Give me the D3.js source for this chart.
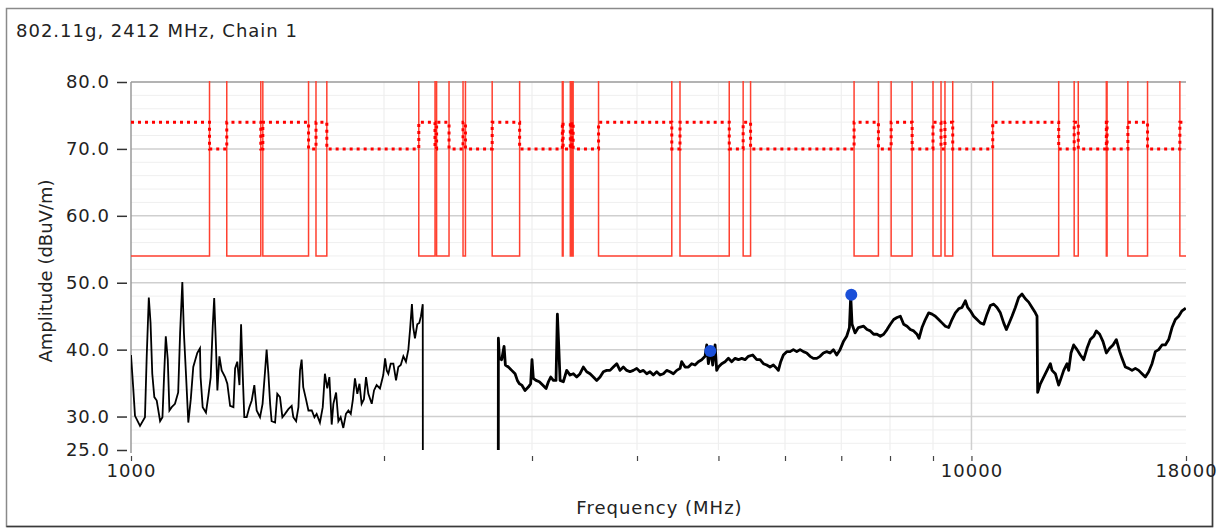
<!DOCTYPE html>
<html>
<head>
<meta charset="utf-8">
<script src="https://cdn.jsdelivr.net/npm/d3@7"></script>
<style>
  html, body { margin: 0; padding: 0; background: #fff; }
  svg text { font-family: "DejaVu Sans", Verdana, sans-serif; fill: #222; }
</style>
</head>
<body>
<div id="chart"></div>
<script>
const width = 1225;
const height = 529;

const title = "802.11g, 2412 MHz, Chain 1";
const xTitle = "Frequency (MHz)";
const yTitle = "Amplitude (dBuV/m)";

const xDomain = [1000, 18000];
const yDomain = [25, 80];
const xTicks = [1000, 2000, 3000, 4000, 5000, 6000, 7000, 8000, 9000, 10000, 18000];
const xTickLabels = [1000, 10000, 18000];
const yTicks = [25, 30, 40, 50, 60, 70, 80];

// restricted bands (MHz)
const restrictedBands = [
  [960, 1240], [1300, 1427], [1435, 1626.5], [1660, 1710],
  [2200, 2300], [2310, 2390], [2483.5, 2500], [2690, 2900],
  [3260, 3267], [3332, 3339], [3345.8, 3358], [3600, 4400],
  [4500, 5150], [5350, 5460], [7250, 7750], [8025, 8500],
  [9000, 9200], [9300, 9500], [10600, 12700], [13250, 13400],
  [14470, 14500], [15350, 16200], [17700, 21400]
];
// limit levels: [inside restricted band, outside]
const avgLimit = [54, 100];
const peakLimit = [74, 70];

// measured sweep, 1 - 2.2 GHz
const sweepLow = [
  [1000,39.2],[1006,34.4],[1011,30.1],[1025,28.6],[1039,29.9],[1044,39.0],[1050,47.8],[1055,44.0],
  [1060,36.4],[1066,32.9],[1073,32.4],[1083,29.3],[1090,29.9],[1095,36.2],[1100,42.0],[1106,38.5],
  [1111,30.9],[1118,31.4],[1128,31.9],[1138,33.6],[1144,42.5],[1151,50.1],[1156,42.5],[1163,35.9],
  [1170,29.1],[1178,32.6],[1186,37.4],[1199,39.5],[1208,40.2],[1210,35.9],[1217,31.4],[1228,30.6],
  [1236,33.1],[1244,35.9],[1251,43.5],[1256,47.7],[1262,40.7],[1267,33.9],[1274,39.0],[1282,36.9],
  [1294,35.9],[1302,34.9],[1312,31.6],[1324,31.4],[1330,37.2],[1338,38.2],[1346,34.7],[1352,43.8],
  [1358,36.4],[1364,29.9],[1373,29.9],[1383,31.4],[1392,32.4],[1402,34.7],[1411,30.9],[1424,29.9],
  [1434,31.9],[1444,36.9],[1450,40.0],[1457,36.4],[1464,31.9],[1470,29.3],[1484,29.1],[1493,33.4],
  [1504,32.9],[1514,29.9],[1525,30.4],[1539,31.1],[1553,31.6],[1560,29.9],[1572,29.3],[1582,31.4],
  [1589,36.9],[1596,38.5],[1603,34.4],[1615,32.6],[1626,30.9],[1641,30.9],[1653,29.9],[1663,30.4],
  [1678,29.1],[1691,31.4],[1701,36.4],[1712,34.2],[1722,35.9],[1733,28.8],[1741,31.9],[1754,33.6],
  [1765,29.3],[1776,29.9],[1789,28.3],[1802,30.4],[1814,30.9],[1826,30.4],[1836,32.4],[1847,35.7],
  [1859,33.4],[1870,34.9],[1881,31.9],[1893,32.6],[1904,35.9],[1916,33.4],[1934,31.9],[1946,33.9],
  [1960,34.7],[1978,34.2],[1996,36.2],[2006,38.7],[2015,36.9],[2024,36.4],[2037,37.9],[2052,37.9],
  [2067,35.4],[2080,37.4],[2094,37.7],[2109,39.0],[2124,38.2],[2138,40.0],[2148,43.0],[2159,46.8],
  [2167,43.3],[2177,41.7],[2191,43.8],[2203,44.0],[2213,45.0],[2224,46.8],[2225,10]
];

// measured sweep, 2.7 - 18 GHz
const sweepHigh = [
  [2735,10],[2736,41.7],[2743,38.7],[2761,38.5],[2779,40.5],[2789,37.7],[2812,37.4],[2838,36.9],
  [2864,36.4],[2882,35.4],[2898,34.9],[2917,34.7],[2943,33.9],[2970,34.4],[2989,34.9],[3000,38.5],
  [3011,35.7],[3033,35.4],[3061,35.2],[3089,34.7],[3118,34.2],[3138,35.2],[3158,35.9],[3181,35.4],
  [3204,35.4],[3216,45.3],[3228,40.5],[3240,35.4],[3269,35.2],[3299,36.9],[3330,36.2],[3360,36.4],
  [3391,35.9],[3422,36.4],[3453,37.4],[3485,36.7],[3517,36.4],[3549,35.9],[3582,35.4],[3615,35.9],
  [3648,36.7],[3681,36.9],[3715,36.9],[3749,37.4],[3784,37.9],[3818,36.9],[3853,37.4],[3889,36.9],
  [3924,36.7],[3960,36.9],[3997,37.2],[4033,36.7],[4070,36.9],[4108,36.4],[4145,36.7],[4183,36.2],
  [4222,36.7],[4261,36.2],[4300,36.4],[4339,36.9],[4379,36.7],[4419,36.4],[4460,36.9],[4501,37.2],
  [4521,38.2],[4563,37.4],[4605,37.4],[4647,37.9],[4689,37.7],[4732,38.2],[4776,38.5],[4820,39.0],
  [4842,40.7],[4864,37.9],[4895,40.0],[4922,37.7],[4954,40.7],[4976,36.9],[4999,37.4],[5045,37.9],
  [5091,38.2],[5138,38.7],[5185,38.2],[5233,38.7],[5281,38.5],[5329,38.7],[5378,38.5],[5427,39.0],
  [5492,39.2],[5553,38.5],[5604,38.5],[5655,37.9],[5707,37.7],[5759,37.4],[5812,37.7],[5865,37.2],
  [5892,36.9],[5930,38.2],[5973,39.2],[6028,39.7],[6084,39.7],[6139,40.0],[6196,39.7],[6253,40.0],
  [6310,39.7],[6368,39.5],[6426,39.0],[6485,38.7],[6545,38.7],[6605,39.0],[6665,39.5],[6727,39.7],
  [6788,39.5],[6851,40.0],[6913,39.2],[6977,40.0],[7041,41.2],[7105,42.0],[7158,43.3],[7184,48.1],
  [7210,43.8],[7269,42.5],[7336,43.3],[7443,43.5],[7512,43.0],[7580,42.8],[7650,42.3],[7720,42.3],
  [7791,42.0],[7862,42.3],[7935,43.0],[8007,43.8],[8081,44.5],[8155,44.8],[8230,45.0],[8305,43.8],
  [8382,43.5],[8458,43.0],[8536,42.8],[8614,42.3],[8662,41.7],[8733,43.3],[8813,44.5],[8894,45.5],
  [8976,45.3],[9058,45.0],[9141,44.5],[9225,44.0],[9310,43.5],[9395,43.3],[9481,44.5],[9568,45.5],
  [9656,46.1],[9745,46.3],[9834,47.3],[9897,46.3],[9970,45.8],[10061,45.0],[10153,44.5],[10247,44.0],
  [10341,43.8],[10435,45.3],[10531,46.6],[10628,46.8],[10725,46.3],[10824,45.5],[10923,44.0],[11003,43.0],
  [11074,43.8],[11175,45.0],[11278,46.3],[11381,47.8],[11486,48.3],[11591,47.6],[11697,47.1],[11805,46.3],
  [11913,45.5],[11968,45.0],[11989,33.6],[12077,34.9],[12188,35.9],[12300,36.9],[12413,37.9],[12470,36.9],
  [12584,36.4],[12699,34.7],[12781,35.7],[12875,36.9],[12993,37.9],[13052,36.9],[13136,39.5],[13232,40.7],
  [13354,40.0],[13476,39.2],[13600,38.5],[13724,40.2],[13850,41.5],[13978,42.0],[14080,42.8],[14209,42.3],
  [14340,41.2],[14471,39.5],[14604,40.2],[14738,40.7],[14873,41.5],[15010,39.7],[15106,38.7],[15244,37.4],
  [15384,37.2],[15526,36.9],[15668,37.2],[15812,36.9],[15957,36.4],[16103,35.9],[16251,36.7],[16400,37.9],
  [16550,39.7],[16702,40.0],[16856,40.7],[17010,40.7],[17166,41.5],[17324,43.3],[17483,44.5],[17643,45.0],
  [17805,45.8],[17990,46.2]
];

const markers = [[4890, 39.8], [7195, 48.2]];

const margin = { top: 82, right: 39, bottom: 79, left: 131 };
const plotW = width - margin.left - margin.right;
const plotH = height - margin.top - margin.bottom;

const svg = d3.select("#chart")
  .append("svg")
  .attr("width", width)
  .attr("height", height);

svg.append("rect")
  .attr("width", width)
  .attr("height", height)
  .attr("fill", "#fff");

// outer frame
svg.append("rect")
  .attr("x", 6.5).attr("y", 8.5)
  .attr("width", 1206).attr("height", 518)
  .attr("fill", "none")
  .attr("stroke", "#8a8a8a")
  .attr("stroke-width", 1.5);
svg.append("path")
  .attr("d", "M1212.5,8.5V526.5H6.5")
  .attr("fill", "none")
  .attr("stroke", "#3a3a3a")
  .attr("stroke-width", 1.5);

svg.append("text")
  .attr("x", 16).attr("y", 37)
  .style("font-size", "18px")
  .style("letter-spacing", "1px")
  .text(title);

const x = d3.scaleLog().domain(xDomain).range([margin.left, margin.left + plotW]);
const y = d3.scaleLinear().domain(yDomain).range([margin.top + plotH, margin.top]);

// grid
const grid = svg.append("g");
const minorY = d3.range(26, 80, 2).filter(v => v % 10 !== 0);
grid.selectAll(".gy-minor").data(minorY).join("line")
  .attr("x1", x(xDomain[0])).attr("x2", x(xDomain[1]))
  .attr("y1", d => y(d)).attr("y2", d => y(d))
  .attr("stroke", "#efefef").attr("stroke-width", 1);
grid.selectAll(".gx-minor").data(xTicks.filter(d => !xTickLabels.includes(d))).join("line")
  .attr("x1", d => x(d)).attr("x2", d => x(d))
  .attr("y1", y(yDomain[0])).attr("y2", y(yDomain[1]))
  .attr("stroke", "#efefef").attr("stroke-width", 1.2);
grid.selectAll(".gy-major").data(yTicks.filter(d => d !== 25)).join("line")
  .attr("x1", x(xDomain[0])).attr("x2", x(xDomain[1]))
  .attr("y1", d => y(d)).attr("y2", d => y(d))
  .attr("stroke", d => d === 80 ? "#9a9a9a" : "#cfcfcf").attr("stroke-width", 1.5);
grid.append("line")
  .attr("x1", x(10000)).attr("x2", x(10000))
  .attr("y1", y(yDomain[0])).attr("y2", y(yDomain[1]))
  .attr("stroke", "#cfcfcf").attr("stroke-width", 1.5);

// left axis line
svg.append("line")
  .attr("x1", margin.left).attr("x2", margin.left)
  .attr("y1", margin.top).attr("y2", margin.top + plotH + 3)
  .attr("stroke", "#9a9a9a").attr("stroke-width", 1.5);

// y axis
const yAxis = svg.append("g")
  .attr("transform", `translate(${margin.left - 4},0)`)
  .call(d3.axisLeft(y).tickValues(yTicks).tickFormat(d3.format(".1f")).tickSize(10).tickPadding(7));
yAxis.select(".domain").remove();
yAxis.selectAll(".tick line").attr("stroke", "#333").attr("stroke-width", 1.5);
yAxis.selectAll(".tick text")
  .style("font-size", "18px").style("letter-spacing", "1px")
  .attr("fill", "#222");

// x axis
const xAxis = svg.append("g")
  .attr("transform", `translate(0,${margin.top + plotH + 6})`)
  .call(d3.axisBottom(x).tickValues(xTicks)
    .tickFormat(d => xTickLabels.includes(d) ? d : "")
    .tickSize(5).tickPadding(3));
xAxis.select(".domain").remove();
xAxis.selectAll(".tick line").attr("stroke", "#444").attr("stroke-width", 1.2);
xAxis.selectAll(".tick text")
  .style("font-size", "18px").style("letter-spacing", "1px")
  .attr("fill", "#222");

svg.append("text")
  .attr("x", (x(xDomain[0]) + x(xDomain[1])) / 2 + 1)
  .attr("y", 514)
  .attr("text-anchor", "middle")
  .style("font-size", "18px").style("letter-spacing", "1px")
  .text(xTitle);

svg.append("text")
  .attr("transform", `translate(52,${margin.top + plotH / 2 + 5}) rotate(-90)`)
  .attr("text-anchor", "middle")
  .style("font-size", "18px")
  .text(yTitle);

// clip
svg.append("clipPath").attr("id", "plot-clip")
  .append("rect")
  .attr("x", margin.left).attr("y", margin.top - 1)
  .attr("width", plotW).attr("height", plotH + 1);

const plot = svg.append("g").attr("clip-path", "url(#plot-clip)");

function stepPoints(bands, levels) {
  const [d0, d1] = xDomain;
  const inside = f => bands.some(([a, b]) => f >= a && f < b);
  const edges = bands.flat().filter(f => f > d0 && f < d1).sort((p, q) => p - q);
  let v = inside(d0) ? levels[0] : levels[1];
  const pts = [[d0, v]];
  edges.forEach(e => {
    pts.push([e, v]);
    v = inside(e) ? levels[0] : levels[1];
    pts.push([e, v]);
  });
  pts.push([d1, v]);
  return pts;
}

const line = d3.line().x(d => x(d[0])).y(d => y(d[1]));

plot.append("path")
  .datum(stepPoints(restrictedBands, avgLimit))
  .attr("d", line)
  .attr("fill", "none")
  .attr("stroke", "#ff4030")
  .attr("stroke-width", 1.5);

plot.append("path")
  .datum(stepPoints(restrictedBands, peakLimit))
  .attr("d", line)
  .attr("fill", "none")
  .attr("stroke", "#ff0000")
  .attr("stroke-width", 3)
  .attr("stroke-dasharray", "3,4");

plot.append("path")
  .datum(sweepLow)
  .attr("d", line)
  .attr("fill", "none")
  .attr("stroke", "#000")
  .attr("stroke-width", 1.8)
  .attr("stroke-linejoin", "miter");

plot.append("path")
  .datum(sweepHigh)
  .attr("d", line)
  .attr("fill", "none")
  .attr("stroke", "#000")
  .attr("stroke-width", 2.8)
  .attr("stroke-linejoin", "round");

plot.selectAll(".marker").data(markers).join("circle")
  .attr("cx", d => x(d[0]))
  .attr("cy", d => y(d[1]))
  .attr("r", 6)
  .attr("fill", "#1a4fd8");
</script>
</body>
</html>
